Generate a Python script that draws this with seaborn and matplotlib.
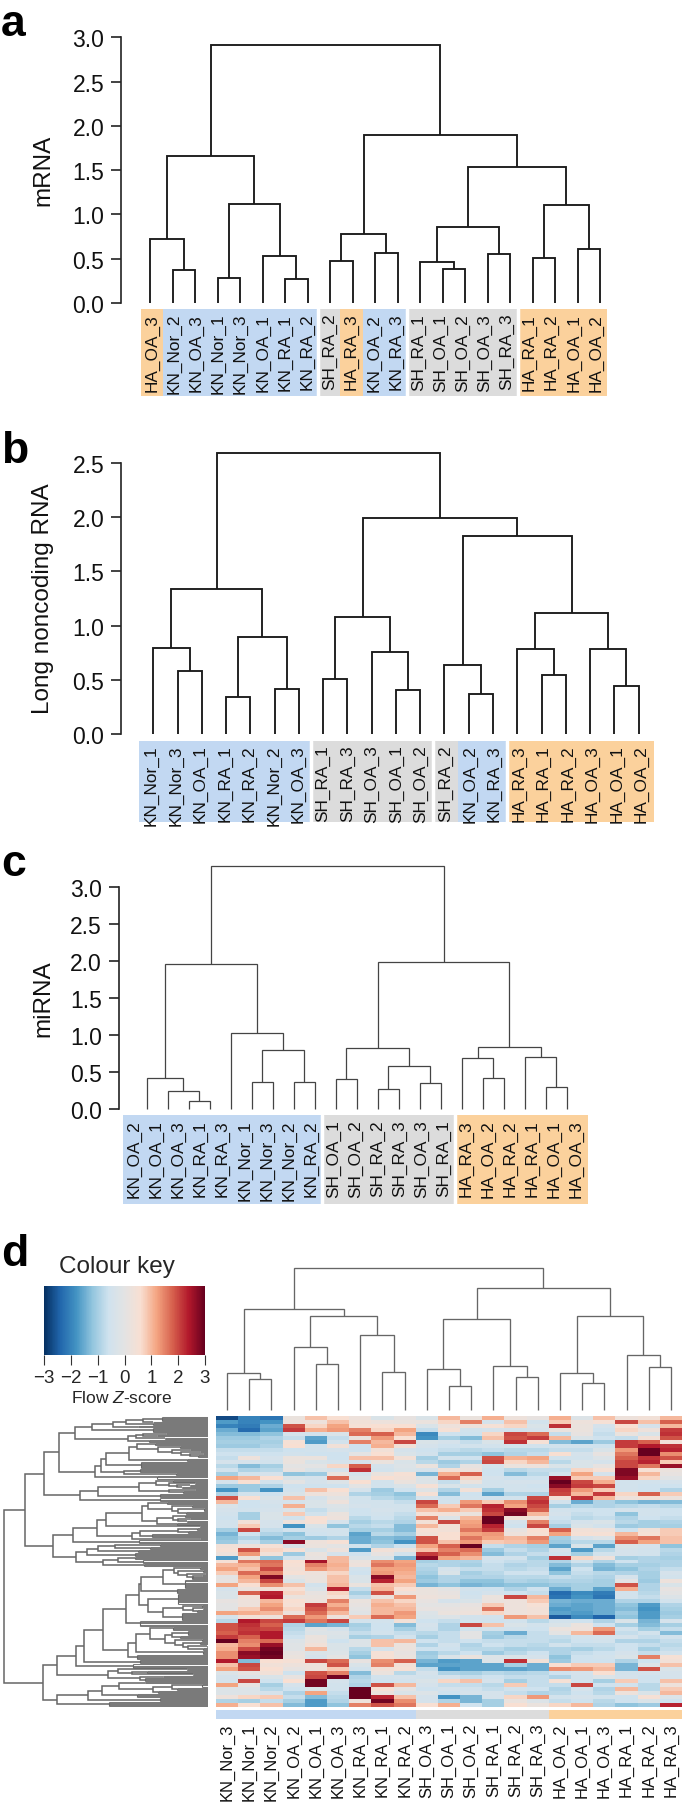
import itertools

import numpy as np
import pandas as pd
import matplotlib
matplotlib.use("Agg")
import matplotlib.pyplot as plt
from matplotlib.colors import ListedColormap
import seaborn as sns

WIDTH = 685
HEIGHT = 1806

# dendrograms: [height, left, right], leaves are sample names
tree_a = [2.91,
          [1.66,
           [0.72, "HA_OA_3", [0.37, "KN_Nor_2", "KN_OA_3"]],
           [1.12, [0.28, "KN_Nor_1", "KN_Nor_3"],
            [0.53, "KN_OA_1", [0.27, "KN_RA_1", "KN_RA_2"]]]],
          [1.90,
           [0.78, [0.47, "SH_RA_2", "HA_RA_3"], [0.57, "KN_OA_2", "KN_RA_3"]],
           [1.53,
            [0.86, [0.46, "SH_RA_1", [0.38, "SH_OA_1", "SH_OA_2"]],
             [0.55, "SH_OA_3", "SH_RA_3"]],
            [1.11, [0.51, "HA_RA_1", "HA_RA_2"], [0.61, "HA_OA_1", "HA_OA_2"]]]]]

tree_b = [2.59,
          [1.335,
           [0.79, "KN_Nor_1", [0.584, "KN_Nor_3", "KN_OA_1"]],
           [0.895, [0.341, "KN_RA_1", "KN_RA_2"], [0.418, "KN_Nor_2", "KN_OA_3"]]],
          [1.996,
           [1.079, [0.507, "SH_RA_1", "SH_RA_3"],
            [0.753, "SH_OA_3", [0.406, "SH_OA_1", "SH_OA_2"]]],
           [1.827,
            [0.64, "SH_RA_2", [0.366, "KN_OA_2", "KN_RA_3"]],
            [1.116,
             [0.781, "HA_RA_3", [0.547, "HA_RA_1", "HA_RA_2"]],
             [0.781, "HA_OA_3", [0.446, "HA_OA_1", "HA_OA_2"]]]]]]

tree_c = [3.288,
          [1.953,
           [0.415, "KN_OA_2", [0.239, "KN_OA_1", [0.108, "KN_OA_3", "KN_RA_1"]]],
           [1.019, "KN_RA_3",
            [0.798, [0.365, "KN_Nor_1", "KN_Nor_3"], [0.365, "KN_Nor_2", "KN_RA_2"]]]],
          [1.98,
           [0.821, [0.406, "SH_OA_1", "SH_OA_2"],
            [0.573, [0.262, "SH_RA_2", "SH_RA_3"], [0.352, "SH_OA_3", "SH_RA_1"]]],
           [0.839,
            [0.69, "HA_RA_3", [0.419, "HA_OA_2", "HA_RA_2"]],
            [0.704, "HA_RA_1", [0.298, "HA_OA_1", "HA_OA_3"]]]]]

tree_d = [4.28,
          [3.04,
           [1.11, "KN_Nor_3", [0.94, "KN_Nor_1", "KN_Nor_2"]],
           [2.83,
            [1.89, "KN_OA_2", [1.39, "KN_OA_1", "KN_OA_3"]],
            [2.27, "KN_RA_3", [1.15, "KN_RA_1", "KN_RA_2"]]]],
          [3.68,
           [2.74,
            [1.24, "SH_OA_3", [0.73, "SH_OA_1", "SH_OA_2"]],
            [1.33, "SH_RA_1", [0.99, "SH_RA_2", "SH_RA_3"]]],
           [2.84,
            [1.11, "HA_OA_2", [0.81, "HA_OA_1", "HA_OA_3"]],
            [1.65, "HA_RA_1", [1.29, "HA_RA_2", "HA_RA_3"]]]]]

# gaps in the coloured strip, given as the leaf count left of the gap
gaps_a = [8, 12, 17]
gaps_b = [7, 12, 15]
gaps_c = [9, 15]

# row dendrogram of d: (height, n lines) is a dense bundle of leaves
row_a = [4.00,
         [3.48,
          [2.86, [2.46, [1.96, (1.39, 5), (1.66, 1)], (1.66, 3)], (2.09, 2)],
          (1.66, 5)],
         [2.40, [2.16, [1.96, (1.27, 2), (1.54, 2)], (1.29, 2)], (1.76, 3)]]
row_b = [3.38,
         [3.21,
          [3.07,
           [2.36,
            [2.12, (1.59, 3),
             [1.49, (0.84, 3), [1.09, (0.54, 2), [0.81, (0.24, 2), [0.54, (0.14, 2), (0.29, 3)]]]]],
            (0.62, 3)],
           (2.02, 7)],
          [2.53, (2.03, 4), (0.96, 3)]],
         (1.52, 3)]
row_c = [3.83,
         [3.30,
          [2.07,
           [1.56, (1.04, 3), [1.17, (0.39, 2), [0.94, (0.54, 2), (0.79, 2)]]],
           [1.16, (0.39, 2), (0.74, 3)]],
          (1.44, 4)],
         (1.44, 3)]
row_d = [3.06,
         [1.98,
          [1.81, (1.22, 3), [1.07, (0.49, 3), [0.89, (0.12, 4), (0.66, 3)]]],
          [1.54, [1.04, (0.69, 3), [0.89, (0.54, 2), (0.64, 2)]], (0.94, 3)]],
         (0.24, 2)]
row_e = [2.29, [2.04, [0.91, (0.34, 3), (0.59, 3)], (1.69, 4)], (0.24, 2)]
row_f = [3.96,
         [3.62, [3.29, [2.79, (1.44, 3), (1.74, 3)], (2.09, 3)], (2.19, 4)],
         [3.16, [2.69, (2.19, 3), (1.94, 3)], (1.92, 3)]]
row_g = [2.06,
         [2.01,
          [1.34,
           [1.02, (0.24, 3), [0.89, (0.14, 3), [0.64, (0.09, 2), [0.44, (0.19, 2), (0.49, 3)]]]],
           (0.69, 8)],
          (0.94, 5)],
         [1.79, (0.89, 10), [1.34, [0.74, (0.19, 3), [0.46, (0.14, 2), (0.34, 3)]], (0.79, 8)]]]
row_h = [2.16,
         [1.74, (1.04, 4),
          [1.29, [1.09, (0.59, 5), (0.84, 3)],
           [0.99, (0.19, 3), [0.74, (0.24, 3), [0.59, (0.04, 2), (0.14, 3)]]]]],
         (0.14, 4)]
row_i = [3.01,
         [2.69, (0.64, 2), [2.29, (1.84, 3), (0.44, 2)]],
         [2.04, (1.34, 2), (1.89, 4)]]
row_j = [4.54,
         [3.60,
          [3.19, [2.66, (1.89, 2), [1.66, [1.09, (0.19, 3), (0.94, 3)], (1.49, 3)]], (2.12, 4)],
          (1.44, 4)],
         (2.96, 5)]
row_tree = [6.12,
            [5.49,
             [4.92, [4.46, row_a, row_b], row_c],
             [4.66, [4.04, [3.32, row_d, row_e], (2.07, 3)], row_f]],
            [4.94,
             [4.54,
              [3.96,
               [3.72,
                [3.14,
                 [2.47, row_g, (2.04, 5)],
                 [2.39, row_h, (2.14, 5)]],
                (2.04, 4)],
               (2.24, 4)],
              row_i],
             row_j]]

# flow z-scores, same column order as tree_d
heat_top = [
    [-2.7, -2.0, -2.2, 0.2, 0.9, 0.6, 0.3, -0.3, 0.1, -0.3, 1.0, 0.2, 1.1, 0.3, 0.1, 1.1, -0.2, 0.9, 0.3, 0.4, 1.0],
    [-1.7, -2.0, -1.8, 0.3, 0.3, 0.9, 0.4, 0.3, 0.2, 0.2, 0.7, 1.5, -0.4, 0.9, -0.5, 0.8, 0.3, 0.5, 2.0, 0.9, 1.8],
    [-2.0, -2.1, -1.5, 1.9, 0.7, 1.2, 0.5, 0.6, 0.6, -0.3, 0.3, 0.3, 0.5, 0.7, -0.3, 2.2, 0.2, -0.4, 0.6, -0.4, 1.0],
    [-1.5, -2.3, -1.6, 2.1, 1.1, 1.3, 1.5, 0.7, 1.2, -0.7, 0.5, -0.5, -0.4, -0.5, -0.4, 0.2, 0.2, -0.6, 0.7, 0.3, 2.1],
    [-1.3, -1.3, -1.2, -0.4, -0.5, -0.3, 1.7, 1.8, 1.0, -1.9, -0.6, -0.6, 0.7, 2.0, 1.7, -0.7, 0.1, -0.7, 0.2, -0.3, 2.2],
    [-1.1, -1.1, -0.9, -0.7, -1.6, -0.7, 0.2, 1.3, 0.6, -1.8, -1.0, -1.3, 0.9, 1.9, 2.1, 1.0, -0.3, -0.6, -0.7, 0.4, 1.9],
    [-1.0, -1.0, -1.0, 0.5, -1.7, -0.5, 1.5, 1.0, 2.0, -0.3, -0.4, -0.7, -0.3, 2.2, 0.5, -1.3, -1.6, -1.1, 2.1, 1.8, 0.4],
    [-1.1, -1.1, -0.9, 0.6, -0.5, 0.4, -0.6, 1.1, 0.4, -0.4, -0.6, -0.5, -0.5, -0.5, -0.5, -0.5, -0.5, -0.6, 2.1, 2.4, 2.2],
    [-0.7, -0.7, -0.7, -0.6, -0.5, -0.4, -0.6, 0.4, -0.4, -0.6, -0.7, -0.8, -0.7, -0.8, -0.8, -0.7, -0.7, -0.3, 1.3, 3.0, 2.3],
    [-0.6, -0.6, -0.6, -0.5, -0.6, -0.6, 0.0, 0.6, -0.3, -0.5, -1.0, -1.0, -1.2, -0.9, -0.7, 0.6, -0.4, 0.1, 1.6, 3.0, 1.4],
    [-0.7, 0.3, -0.4, 0.2, 0.2, -0.6, 0.9, 0.9, 0.4, -1.0, -0.5, -0.6, 1.9, 1.1, 1.2, -0.5, -0.5, -0.2, 1.8, 2.2, 1.9],
    [-0.4, -0.4, -0.5, 0.2, -0.3, -0.4, -0.4, 0.2, -0.3, -0.8, -1.1, -0.9, 2.0, 0.7, 1.0, -0.8, -0.3, -0.4, 2.0, 2.3, 0.8],
    [-0.8, -1.3, -1.0, 0.0, 0.0, 0.7, 1.8, -0.4, -0.2, 0.2, -0.9, 0.1, -0.4, 0.2, 0.3, -0.3, -0.3, 0.1, 2.0, 1.6, 2.6],
    [-0.5, -0.9, -0.8, 0.1, -0.3, -0.4, 2.2, -0.5, -0.3, -0.4, 0.4, 0.3, -0.6, -0.8, -0.7, -0.7, 0.7, 0.5, 2.8, 0.5, 0.2],
    [-1.0, -0.5, -0.4, -1.2, -1.1, 0.2, -0.4, 0.2, 0.5, -1.4, 1.1, 1.8, -0.6, -1.3, -0.8, -0.5, 1.2, -0.4, 2.8, 1.0, 0.1],
    [1.2, 1.0, 0.6, -0.3, -0.4, 1.7, -0.2, 0.6, 0.4, -0.2, 1.7, 0.7, -0.4, -0.6, -0.6, 2.6, 0.8, 0.8, 2.6, 0.7, -0.1],
    [-0.4, 0.6, -0.5, 0.0, -0.4, -0.2, 0.6, -0.5, 0.2, -0.2, -0.7, 0.2, -0.5, -0.4, -0.4, 3.0, 2.0, 1.1, -0.5, -0.5, -0.4],
    [-1.1, -1.1, -0.9, -0.6, -0.6, -0.6, 0.0, -0.5, -0.3, 0.5, -0.3, -0.5, -0.5, -0.5, -0.6, 2.7, 2.1, 2.0, -0.5, -0.6, -0.6],
    [-1.8, -1.1, -1.8, -0.5, 0.9, 0.6, -0.4, -1.1, -0.6, -0.1, -0.9, 0.4, -1.0, -0.5, -0.5, 2.1, 1.3, 0.8, -0.5, -0.6, -0.9],
    [-0.9, -0.5, -0.6, -0.3, 0.3, 0.3, -0.9, -1.0, -1.2, 0.5, -1.3, -0.6, -1.6, -0.9, -0.9, 2.0, 1.0, 2.1, 0.7, 1.8, 0.8],
    [1.9, 0.6, -0.3, 0.9, -0.4, 0.0, -0.5, -0.8, -1.0, -0.4, -0.6, -0.5, -0.5, -0.5, 2.0, 0.4, 2.2, 1.0, 0.3, 0.4, 0.2],
    [1.0, -0.6, -0.4, -0.4, -0.3, 0.3, -0.5, -0.5, -0.7, 2.0, -0.5, 1.3, 0.8, 1.4, 2.2, -0.5, -1.5, -0.9, -1.2, -1.4, -1.3],
    [-0.3, -0.6, -0.5, 1.1, -0.3, -0.2, -0.4, -0.5, -0.5, 1.7, 0.8, 1.6, 2.3, 1.2, 2.0, -1.0, -0.8, -0.9, -0.8, -0.7, -0.8],
    [-0.4, -0.5, -0.4, -0.2, -0.7, -0.3, -0.6, -0.4, -0.5, 0.9, 1.1, 0.8, 2.2, 2.7, 1.8, -0.5, -0.6, -0.6, -0.4, -0.5, -0.6],
    [-0.5, -1.0, -0.3, 0.8, -0.5, 0.2, -0.6, -0.5, -0.7, 0.5, 0.4, 0.2, 2.0, 2.9, 1.0, -0.4, -0.7, -0.6, -1.2, -0.5, -0.6],
    [-0.6, -1.0, -0.3, -0.5, 0.6, 0.3, -0.8, -0.6, -0.8, 1.5, -0.2, 1.0, 3.0, 0.4, 0.4, -0.6, -0.8, -0.7, -0.9, -0.6, -0.7],
    [-0.5, 0.4, -0.4, 0.3, 0.5, -0.4, -1.0, -0.8, -0.9, 0.4, 2.0, 1.2, 3.0, -0.4, 1.5, -0.7, -0.4, -0.3, -0.8, -1.0, -0.9],
    [-0.5, 0.8, -0.4, -1.8, -0.3, -1.2, -0.8, -0.7, -1.3, 1.0, 0.4, 1.3, 2.3, -0.6, 2.0, -1.0, -0.3, -0.5, -1.1, -1.0, -1.0],
    [-1.0, 2.0, -0.7, -0.5, -0.5, -0.5, -1.0, -1.0, -1.3, 0.5, 0.4, 1.6, 2.1, 0.1, 0.6, 1.8, 0.4, 0.3, -0.6, 0.4, 0.8],
    [-1.4, -0.6, -0.9, -1.2, -0.6, -0.5, -1.6, -0.8, -1.0, 0.4, 0.6, 1.2, 1.3, 0.3, 0.5, 1.2, 0.5, 0.5, 1.0, 0.5, 0.8],
    [-1.2, -0.9, -1.3, -1.0, -1.1, -0.9, -1.5, -1.3, -1.4, 1.9, 0.6, 1.6, 1.2, 1.0, 1.5, -1.0, -0.4, -0.2, 1.4, 1.6, 0.9],
    [-1.1, -0.6, -1.0, 2.7, 0.3, 0.5, -1.5, -1.2, -1.8, 1.9, 0.9, 1.3, 0.8, 0.9, 1.3, -1.1, -0.8, -0.8, 1.8, 1.2, 0.9],
    [0.4, 0.3, 0.5, -0.3, 0.2, 0.0, -0.5, -0.9, -0.6, 1.2, 1.8, 3.0, -0.7, -0.9, -1.0, -1.6, -0.3, -1.6, -0.3, -0.4, -1.2],
    [0.5, 1.9, 0.7, 0.5, -0.3, 0.3, -1.7, 0.4, 0.2, 0.9, 1.5, 1.7, -1.1, -0.7, -0.9, -0.4, -1.7, -0.8, -0.4, -0.5, -0.8],
    [0.3, 1.3, 0.4, -1.1, 0.2, -0.4, -0.6, 0.1, -0.5, 2.1, 1.8, 1.4, -1.3, -0.9, -0.7, -0.6, -1.0, -0.5, -0.4, -0.5, -0.9],
    [-1.7, 0.2, -1.2, -0.4, 0.1, 1.0, -0.3, -0.3, -1.4, 2.7, 1.2, 1.0, -0.4, -0.5, -1.0, 2.2, 0.7, 0.3, -1.0, -0.9, -1.0],
]
heat_bottom = [
    [0.5, 1.6, 1.7, 0.6, 2.5, 1.0, 0.2, 1.4, 1.2, -1.0, -0.9, -0.9, -0.6, -0.7, -0.8, -0.9, -0.5, -0.9, -0.6, -0.9, -0.9],
    [1.0, 1.1, 1.6, 0.5, 1.5, 1.1, 0.3, 1.6, 1.3, -0.8, -0.9, -1.0, -0.7, -0.9, -0.8, -1.3, -0.9, -1.3, -1.0, -1.0, -0.9],
    [1.2, 0.9, 2.0, 0.4, 1.3, 1.0, -0.5, 1.2, 1.2, -0.9, -0.4, -0.7, -0.7, -0.8, -0.7, -1.6, -0.6, -1.4, -1.2, -0.9, -0.7],
    [0.8, 1.7, 1.5, 0.5, 0.3, 0.7, -0.6, 1.3, 1.1, -1.0, -0.3, -1.0, -0.8, -0.6, -0.6, -1.2, -0.7, -0.8, -0.9, -1.0, -0.4],
    [0.0, 1.2, 2.8, 0.0, 0.2, 0.9, -0.3, 2.7, 1.0, -1.2, -0.9, -0.9, -0.9, -0.8, -0.8, -0.7, -0.8, -0.9, -0.4, -1.0, -0.5],
    [0.1, 1.0, 2.0, -0.3, 0.2, 0.9, -0.3, 2.3, 1.2, -1.1, -0.9, -1.2, -1.2, -0.9, -1.0, -0.9, -0.9, -1.0, 0.0, -1.1, 0.3],
    [1.2, 0.6, 1.4, 0.9, -0.5, 1.0, 0.2, 0.9, 0.8, -1.4, -1.2, -1.4, -1.3, -1.2, -1.2, -1.1, -1.0, -1.0, 1.9, -0.9, -0.3],
    [-0.4, 0.2, 0.4, 0.5, -0.3, 2.3, -0.7, 1.0, 0.6, 0.2, 0.0, -0.5, -0.6, -0.9, -0.6, -1.5, -1.0, -1.6, 1.1, -0.9, 0.1],
    [-0.3, 1.8, 2.3, 0.7, 0.1, 0.7, -1.0, 1.9, 0.3, 0.2, 0.1, -0.6, -0.4, -0.6, -0.7, -2.3, -1.9, -2.1, -0.5, -0.8, 0.0],
    [-0.3, 0.4, 2.4, 0.2, 0.2, 0.5, -0.7, 0.2, 1.3, 0.3, 0.2, -0.5, 0.2, 2.0, 1.0, -2.2, -1.8, -2.2, -0.5, -0.7, -0.2],
    [0.1, 0.3, 1.0, 0.6, 0.3, 1.5, 0.2, 0.9, 0.7, 0.1, -0.4, -0.3, 0.2, 0.3, 0.8, -1.4, -1.5, -1.5, -0.9, -0.9, -0.5],
    [0.0, 0.3, 1.2, 0.5, 2.1, 1.1, 0.1, 1.1, 0.9, 0.0, 0.0, 0.1, 0.8, 0.3, 0.5, -1.5, -1.6, -1.5, -1.2, -1.7, -0.9],
    [0.0, 0.8, 1.4, 0.7, 1.9, 1.4, 0.0, 1.0, 1.0, 0.1, 0.1, 0.2, 1.6, 0.3, 0.4, -1.7, -1.6, -1.5, -1.3, -1.8, -1.0],
    [1.2, 1.1, 1.0, 0.3, 1.7, 1.0, -0.1, 1.0, 1.3, -0.2, 0.2, 0.3, 0.7, 0.3, 0.4, -1.6, -1.7, -1.5, -1.1, -1.7, -1.1],
    [-0.4, 0.4, 0.3, 1.7, 1.3, 0.3, 0.8, 1.7, 1.2, -0.3, -0.2, -0.5, -0.5, 1.3, 0.9, -2.5, -1.9, -2.4, -1.2, -1.7, -1.0],
    [-0.8, 2.4, 2.0, 2.1, 1.6, 2.0, -0.5, -0.5, 0.4, -0.6, -0.7, -0.5, -0.6, -0.5, -0.8, -0.5, -0.6, -0.9, -0.3, -1.4, -0.4],
    [1.9, 2.2, 1.8, -0.9, -1.6, -1.4, -1.0, -0.6, -1.3, -0.4, -0.9, 2.0, 0.9, -0.3, -0.5, -0.3, 0.2, -0.6, -1.0, -1.3, -1.0],
    [1.9, 2.1, 2.0, -0.8, -0.1, -0.4, -0.9, -0.6, -1.0, -0.5, -0.9, -0.5, -0.5, -0.5, -0.6, 0.2, 0.3, 1.3, -0.5, -1.0, -0.7],
    [1.8, 2.2, 2.4, -0.7, -0.2, -0.2, -0.7, -0.5, -0.7, -0.8, -0.7, 0.0, -1.0, -1.5, -0.7, 0.0, 1.0, 1.7, -0.7, -0.5, -1.3],
    [2.1, 1.8, 2.4, -0.6, 0.2, -0.3, -1.0, -0.9, -0.5, -1.0, -0.7, 0.0, -1.1, -0.8, -0.7, -0.7, -0.5, -0.4, -0.4, -0.7, -0.5],
    [3.0, 1.5, 1.7, -0.2, 0.2, -0.6, -0.2, 0.9, 1.0, -0.6, -0.7, -0.6, -0.7, -0.7, -0.7, -0.8, -0.6, -0.5, -0.9, -0.9, -0.7],
    [1.0, 1.4, 2.6, -0.1, 0.4, -0.3, -0.2, 0.9, 0.2, -0.9, -0.5, -0.9, -0.6, -0.7, -0.8, -0.5, -0.7, -0.7, -0.6, -0.7, -0.8],
    [1.1, 2.0, 2.9, -0.1, 1.0, -0.3, -0.8, -0.4, 0.2, -0.6, -0.6, -0.8, -0.8, -1.0, -0.9, -0.9, -1.0, -0.8, -0.6, -1.0, -0.7],
    [1.4, 2.7, 3.0, 0.1, -0.3, -0.2, -1.0, 0.5, 0.1, -1.1, -0.8, -0.6, -1.1, -0.8, -0.6, -0.9, -0.7, -0.6, -0.4, -0.7, -0.5],
    [1.4, 2.6, 2.9, 0.2, -0.4, 0.0, -1.2, 0.5, 0.2, -1.0, -0.3, 0.2, -0.2, -0.3, -0.4, -1.2, -0.6, -0.5, -0.3, 1.5, 0.5],
    [2.4, -1.3, 0.6, 0.5, 2.0, 1.7, 0.1, 1.4, 1.8, -1.4, -1.7, -1.6, -0.2, 2.2, 0.4, -1.1, -0.6, -0.6, -0.9, -0.6, 0.4],
    [0.9, 2.0, 0.4, 0.3, 0.3, 1.9, -0.3, 1.5, 0.4, -1.6, -1.6, -1.6, -1.6, -1.0, -1.5, 0.6, 0.8, 0.8, -1.4, -0.2, 0.9],
    [1.2, 1.9, 0.6, 0.1, 0.3, 0.8, -0.5, 0.4, 0.5, -0.7, -1.8, -1.6, -1.6, -1.6, -1.5, 1.4, 1.3, 1.0, -1.4, 1.9, -0.3],
    [-0.2, 0.1, 0.4, -0.6, 1.9, 1.5, -1.3, 0.2, -0.8, -0.4, -0.9, -1.0, -0.8, -0.9, -0.8, -0.6, -0.4, 0.6, -0.5, -0.4, -0.4],
    [-0.4, -0.2, -0.3, 0.1, 2.0, 2.9, -0.9, -0.5, -0.4, -0.5, -0.4, -0.7, -0.6, -0.7, -0.7, -0.9, -0.5, -0.2, -0.4, -0.6, -0.4],
    [-0.4, 2.0, -0.6, 0.6, 2.9, -0.4, -0.8, -0.6, -0.5, -0.3, 0.7, 0.9, -0.4, -1.0, -0.7, 0.5, -0.5, -1.0, 0.8, -0.6, 0.9],
    [1.2, 0.1, -1.0, -0.4, 2.9, -0.5, -0.9, 1.9, 1.0, -0.4, -0.7, -0.7, -0.8, 0.8, -0.7, -0.7, 2.0, -0.6, -0.5, -0.8, 0.3],
    [-0.2, -0.2, -0.8, -0.6, -0.3, -0.5, 3.0, 0.5, 0.0, -0.6, -0.4, -0.5, -0.7, -0.5, -0.6, -0.9, -0.4, -0.9, 1.0, -0.8, 0.8],
    [-0.2, -0.2, -0.4, -0.9, 1.2, -0.7, 3.0, 0.2, -0.3, -0.2, -0.6, -0.4, -0.4, -0.7, -0.9, -0.8, -0.6, -0.8, 0.3, -0.3, 1.0],
    [0.3, 0.7, 0.8, -0.7, -1.3, -0.8, 3.0, 2.3, 0.9, -0.4, -1.8, -1.4, -0.4, 0.7, 1.3, -0.5, -0.4, -0.5, -0.6, 0.5, -0.2],
    [-0.9, -1.0, -0.7, -1.0, -1.7, -0.9, 0.3, 2.9, 1.4, -0.4, -0.9, -1.4, -1.0, 0.2, -0.2, -0.7, -0.6, -0.8, -0.6, -0.3, -0.6],
    [1.1, 0.6, 0.9, -1.3, -1.7, -1.2, 1.5, 1.9, 1.6, 0.6, 1.1, -0.6, -1.0, 0.6, 0.2, 0.7, 1.0, -0.9, -1.2, -1.1, 2.3],
]

key_ticks = [-3, -2, -1, 0, 1, 2, 3]
key_labels = ["\u22123", "\u22122", "\u22121", "0", "1", "2", "3"]
ticks_a = [0.0, 0.5, 1.0, 1.5, 2.0, 2.5, 3.0]
ticks_b = [0.0, 0.5, 1.0, 1.5, 2.0, 2.5]
ticks_c = [0.0, 0.5, 1.0, 1.5, 2.0, 2.5, 3.0]

strip_colors = {"KN": "#c2d8f2", "SH": "#dcdcdc", "HA": "#fbd19c"}
heat_colors = ["#053061", "#2166ac", "#4393c3", "#92c5de", "#cfe2ee", "#e3e3e3",
               "#f8dfd2", "#f4a582", "#d6604d", "#b2182b", "#67001f"]

sns.set_style("white")
plt.rcParams["font.family"] = ["Liberation Sans", "DejaVu Sans"]
plt.rcParams["mathtext.fontset"] = "custom"
plt.rcParams["mathtext.it"] = "Liberation Sans:italic"
plt.rcParams["mathtext.rm"] = "Liberation Sans"

fig = plt.figure(figsize=(WIDTH / 100, HEIGHT / 100), dpi=100)


def px_axes(x0, y0, x1, y1):
    # axes from pixel box, y counted from the top of the figure
    return fig.add_axes([x0 / WIDTH, 1 - y1 / HEIGHT, (x1 - x0) / WIDTH, (y1 - y0) / HEIGHT])


def leaf_names(node):
    if isinstance(node, str):
        return [node]
    return leaf_names(node[1]) + leaf_names(node[2])


def draw_tree(ax, node, counter, color, lw):
    if isinstance(node, str):
        return next(counter), 0.0
    x1, h1 = draw_tree(ax, node[1], counter, color, lw)
    x2, h2 = draw_tree(ax, node[2], counter, color, lw)
    ax.plot([x1, x1, x2, x2], [h1, node[0], node[0], h2], color=color, lw=lw,
            solid_joinstyle="miter", solid_capstyle="butt", clip_on=False)
    return (x1 + x2) / 2, node[0]


def draw_row_tree(ax, node, counter):
    if isinstance(node, tuple):
        ys = [next(counter) for _ in range(node[1])]
        ax.hlines(ys, 0, node[0], color="#7a7a7a", lw=0.75)
        ax.vlines(node[0], ys[0], ys[-1], color="#666666", lw=0.8)
        return sum(ys) / len(ys), node[0]
    y1, h1 = draw_row_tree(ax, node[1], counter)
    y2, h2 = draw_row_tree(ax, node[2], counter)
    ax.plot([h1, node[0], node[0], h2], [y1, y1, y2, y2], color="#666666", lw=1.1,
            solid_joinstyle="miter", solid_capstyle="butt")
    return (y1 + y2) / 2, node[0]


def count_rows(node):
    if isinstance(node, tuple):
        return node[1]
    return count_rows(node[1]) + count_rows(node[2])


def dendro_panel(tree, ticks, ylabel, label_y, spine_x, first_x, last_x, y_zero, y_tick, color, lw):
    n = len(leaf_names(tree))
    per_leaf = (last_x - first_x) / (n - 1)
    per_unit = (y_zero - y_tick) / ticks[-1]
    top = max(tree[0], ticks[-1])
    ax = px_axes(spine_x, y_zero - top * per_unit, last_x + 2, y_zero)
    ax.set_xlim(-(first_x - spine_x) / per_leaf, n - 1 + 2 / per_leaf)
    ax.set_ylim(0, top)
    draw_tree(ax, tree, itertools.count(), color, lw)
    sns.despine(ax=ax, bottom=True)
    ax.spines["left"].set_bounds(0, ticks[-1])
    ax.spines["left"].set_linewidth(1.2)
    ax.spines["left"].set_color("#222222")
    ax.set_xticks([])
    ax.set_yticks(ticks)
    ax.set_yticklabels([f"{t:.1f}" for t in ticks])
    ax.tick_params(axis="y", left=True, length=7, width=1.2, color="#222222", labelsize=16.5, pad=5,
                   labelcolor="#111111")
    fig.text(43 / WIDTH, 1 - label_y / HEIGHT, ylabel, rotation=90, ha="center", va="center",
             fontsize=17.5, color="#111111")
    return ax


def strip_panel(labels, gaps, x0, y0, x1, y1):
    ax = px_axes(x0, y0, x1, y1)
    groups = list(strip_colors)
    codes = pd.DataFrame([[groups.index(lab[:2]) for lab in labels]])
    sns.heatmap(codes, ax=ax, cmap=ListedColormap([strip_colors[g] for g in groups]), vmin=-0.5, vmax=2.5,
                cbar=False, xticklabels=False, yticklabels=False)
    for g in gaps:
        ax.axvline(g, color="white", lw=2.5)
    return ax


def strip_text(ax, labels, y, size=12.4):
    for i, lab in enumerate(labels):
        ax.text(i + 0.5, y, lab, rotation=90, ha="center", va="top", fontsize=size, color="#111111",
                clip_on=False)


# a
dendro_panel(tree_a, ticks_a, "mRNA", 170, 120.8, 150.2, 600, 304, 38.3, "#1a1a1a", 1.35)
ax = strip_panel(leaf_names(tree_a), gaps_a, 140.5, 309.5, 607, 397)
strip_text(ax, leaf_names(tree_a), 0.05)

# b
dendro_panel(tree_b, ticks_b, "Long noncoding RNA", 599, 120.8, 153.3, 638.6, 735, 464, "#1a1a1a", 1.35)
ax = strip_panel(leaf_names(tree_b), gaps_b, 139, 741.5, 653.5, 822.5)
strip_text(ax, leaf_names(tree_b), 0.05)

# c
dendro_panel(tree_c, ticks_c, "miRNA", 999, 118.6, 146.7, 567, 1109.7, 888, "#444444", 0.9)
ax = strip_panel(leaf_names(tree_c), gaps_c, 123, 1115.7, 587.5, 1204.7)
strip_text(ax, leaf_names(tree_c), 0.05)

# d: column tree, heatmap, colour key
labels_d = leaf_names(tree_d)
heat = pd.DataFrame(heat_top + heat_bottom, columns=labels_d)
cmap = sns.blend_palette(heat_colors, as_cmap=True)

ax_heat = px_axes(216, 1417, 682, 1708)
ax_key = px_axes(44, 1287, 205, 1356)
sns.heatmap(heat, ax=ax_heat, cmap=cmap, vmin=-3, vmax=3, xticklabels=False, yticklabels=False,
            cbar_ax=ax_key, cbar_kws={"orientation": "horizontal", "ticks": key_ticks})
ax_key.set_xticklabels(key_labels)
ax_key.tick_params(axis="x", bottom=True, length=7, width=0.8, color="#333333", labelsize=13.5, pad=3)
ax_heat.collections[0].colorbar.outline.set_visible(False)
fig.text(117 / WIDTH, 1 - 1267 / HEIGHT, "Colour key", ha="center", va="center", fontsize=17.5)
fig.text(122 / WIDTH, 1 - 1398 / HEIGHT, r"Flow $\mathit{Z}$-score", ha="center", va="center", fontsize=12.5)

ax_col = px_axes(216, 1269, 682, 1411)
ax_col.set_xlim(-0.5, 20.5)
ax_col.set_ylim(0, 4.28)
draw_tree(ax_col, tree_d, itertools.count(), "#666666", 0.95)
ax_col.axis("off")

ax_row = px_axes(0, 1417, 208, 1708)
ax_row.set_xlim(6.24, 0)
ax_row.set_ylim(count_rows(row_tree) - 0.5, -0.5)
draw_row_tree(ax_row, row_tree, itertools.count())
ax_row.axis("off")

ax = strip_panel(labels_d, [], 216, 1711, 682, 1720)
strip_text(ax, labels_d, 1.4, size=11.9)

# panel letters
for letter, y in zip("abcd", [24, 452, 865, 1254]):
    fig.text(1 / WIDTH, 1 - y / HEIGHT, letter, ha="left", va="center", fontsize=32, fontweight="bold", color="black")

fig.savefig("out.png", dpi=100)
